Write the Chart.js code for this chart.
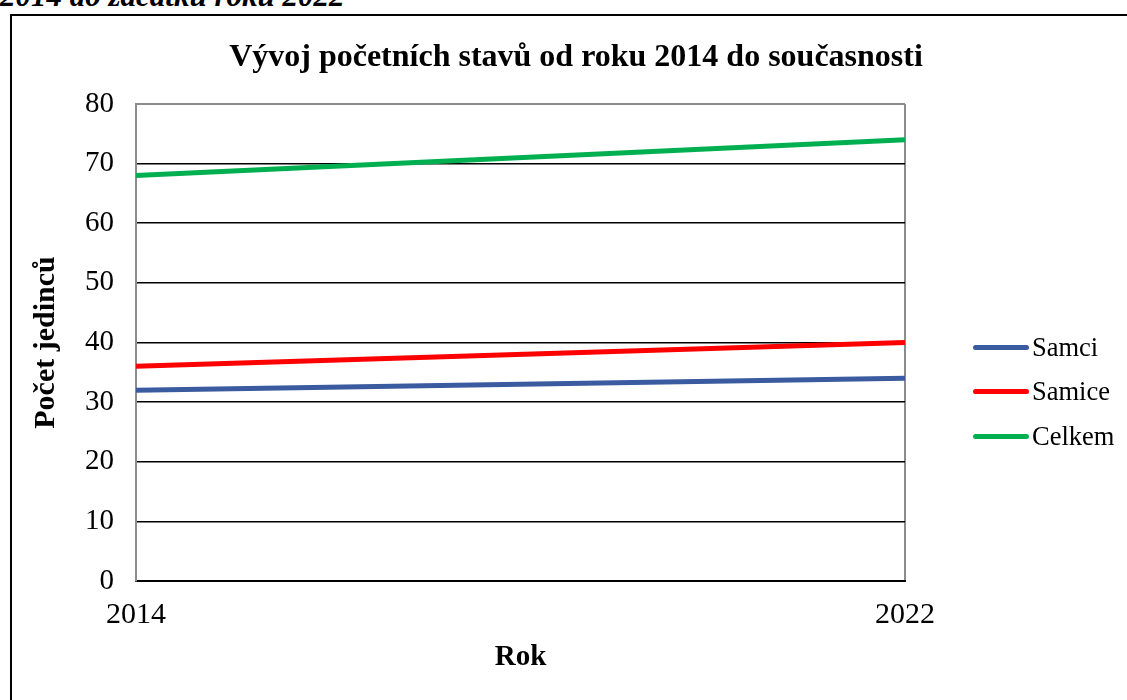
<!DOCTYPE html>
<html>
<head>
<meta charset="utf-8">
<script src="https://cdn.jsdelivr.net/npm/chart.js@4"></script>
<style>
  html, body { margin: 0; padding: 0; background: #fff; width: 1127px; height: 700px; overflow: hidden; position: relative; }
  #caption { position: absolute; left: 0px; top: -19px; font-family: "Liberation Serif", serif; font-style: italic; font-weight: bold; font-size: 31px; line-height: 30px; white-space: nowrap; color: #000; }
  #frame { position: absolute; left: 10px; top: 14px; width: 1200px; height: 800px; border: 2px solid #000; box-sizing: border-box; }
  #wrap { position: absolute; left: 0; top: 0; width: 1127px; height: 700px; }
  #title { position: absolute; left: 576px; top: 55px; transform: translate(-50%, -50%); font-family: "Liberation Serif", serif; font-weight: bold; font-size: 32px; line-height: 36px; white-space: nowrap; color: #000; }
  #legend { position: absolute; left: 973px; top: 325px; font-family: "Liberation Serif", serif; font-size: 26.5px; color: #000; }
  .item { display: flex; align-items: center; height: 44.5px; }
  .sw { width: 56px; height: 5px; border-radius: 3px; margin-right: 3px; }
</style>
</head>
<body>
<div id="caption">2014 do začátku roku 2022</div>
<div id="frame"></div>
<div id="wrap"><canvas id="c" width="1127" height="700"></canvas></div>
<div id="title"></div>
<div id="legend"></div>
<script>
const categories = ["2014", "2022"];
const seriesNames = ["Samci", "Samice", "Celkem"];
const samci = [32, 34];
const samice = [36, 40];
const celkem = [68, 74];
const seriesColors = ["#3A5BA0", "#FF0000", "#00B050"];
const chartTitle = "Vývoj početních stavů od roku 2014 do současnosti";
const yTitle = "Počet jedinců";
const xTitle = "Rok";

const serif = "'Liberation Serif', 'Times New Roman', serif";
const values = [samci, samice, celkem];

document.getElementById('title').textContent = chartTitle;
const legend = document.getElementById('legend');
seriesNames.forEach((n, i) => {
  const d = document.createElement('div');
  d.className = 'item';
  d.innerHTML = '<div class="sw" style="background:' + seriesColors[i] + '"></div><span>' + n + '</span>';
  legend.appendChild(d);
});

new Chart(document.getElementById('c'), {
  type: 'line',
  data: {
    labels: categories,
    datasets: seriesNames.map((n, i) => ({
      label: n,
      data: values[i],
      borderColor: seriesColors[i],
      backgroundColor: seriesColors[i],
      borderWidth: 5,
      pointRadius: 0,
      tension: 0,
      fill: false
    }))
  },
  options: {
    responsive: false,
    animation: false,
    layout: { padding: { left: 20, right: 222, top: 104, bottom: 24.6 } },
    plugins: {
      legend: { display: false },
      tooltip: { enabled: false },
      title: { display: false }
    },
    scales: {
      x: {
        offset: false,
        afterFit: s => { s.height = 94.4; },
        grid: { color: '#8c8c8c', lineWidth: 2, drawTicks: false },
        border: { color: '#000', width: 2 },
        ticks: { color: '#000', font: { family: serif, size: 30 }, padding: 16, maxRotation: 0, autoSkip: false },
        title: { display: true, text: xTitle, color: '#000', font: { family: serif, size: 29, weight: 'bold' }, padding: { top: 7.6, bottom: 0 } }
      },
      y: {
        min: 0, max: 80,
        afterFit: s => { s.width = 116; },
        grid: {
          drawTicks: false,
          color: ctx => (ctx.tick && ctx.tick.value === 80) ? '#8c8c8c' : '#000',
          lineWidth: ctx => (ctx.tick && ctx.tick.value === 80) ? 2 : 1.6
        },
        border: { color: '#8c8c8c', width: 2 },
        ticks: { stepSize: 10, color: '#000', font: { family: serif, size: 29 }, padding: 22 },
        title: { display: true, text: yTitle, color: '#000', font: { family: serif, size: 30, weight: 'bold' }, padding: { top: 8, bottom: 0 } }
      }
    }
  }
});
</script>
</body>
</html>
